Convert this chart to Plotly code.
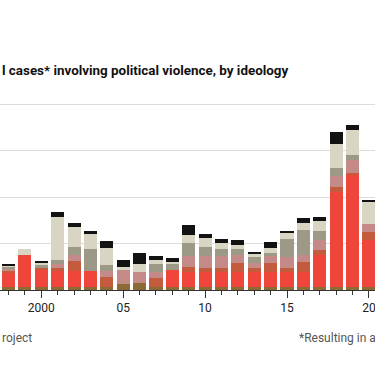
import plotly.graph_objects as go

years = list(range(1998, 2021))

# stacked segments, bottom to top (number of cases)
other_bottom = [1.2, 1.2, 1.2, 1.2, 1.2, 1.2, 1.2, 2.5, 2.8, 1.2, 1.2, 1.2, 1.2, 1.2, 1.2, 1.2, 1.2, 1.2, 1.2, 1.2, 1.2, 1.2, 1.2]
right_wing   = [6.0, 13.9, 7.4, 7.0, 7.0, 7.0, 0.0, 0.0, 0.0, 0.0, 7.3, 6.7, 6.7, 6.7, 6.7, 6.7, 6.7, 6.7, 6.7, 13.9, 41.1, 48.3, 20.3]
anti_govt    = [1.0, 0.0, 1.0, 1.4, 4.3, 0.0, 4.3, 0.0, 0.0, 3.9, 0.0, 1.9, 1.4, 1.4, 3.6, 1.4, 3.6, 1.4, 4.3, 2.2, 1.9, 1.0, 3.6]
left_wing    = [0.8, 0.0, 0.0, 1.5, 2.4, 0.0, 2.8, 6.0, 5.0, 2.8, 0.0, 4.9, 5.3, 5.3, 3.6, 2.5, 3.2, 5.0, 2.9, 4.3, 5.0, 5.4, 3.3]
islamist     = [1.0, 0.0, 1.1, 1.6, 3.7, 9.6, 2.4, 0.0, 0.0, 3.2, 3.0, 5.7, 3.7, 2.9, 2.5, 2.5, 1.1, 7.7, 10.5, 3.6, 3.2, 2.2, 0.0]
environment  = [0.4, 2.6, 0.9, 18.8, 8.4, 6.5, 7.4, 1.5, 3.3, 1.6, 0.7, 3.3, 3.9, 2.9, 1.7, 1.4, 2.1, 2.6, 3.4, 4.3, 10.3, 10.8, 9.6]
unclear      = [1.0, 0.0, 0.9, 2.0, 1.9, 1.0, 2.9, 2.9, 4.7, 2.1, 1.7, 4.3, 1.9, 1.6, 2.0, 0.7, 2.9, 0.7, 1.9, 1.7, 5.2, 2.2, 0.7]

series_names = ["Other", "Right-wing", "Anti-government", "Left-wing", "Islamist", "Environmental", "Unclear"]
series_values = [other_bottom, right_wing, anti_govt, left_wing, islamist, environment, unclear]
series_colors = ["#8A6A35", "#F0453A", "#C45A3E", "#C48A88", "#9C9A87", "#D8D6C2", "#121212"]

tick_vals = [2000, 2005, 2010, 2015, 2020]
tick_text = ["2000", "05", "10", "15", "20"]

W, H = 375, 366
TOP, BASE = 100, 290

fig = go.Figure()
for name, vals, col in zip(series_names, series_values, series_colors):
    fig.add_trace(go.Bar(x=years, y=vals, name=name, marker=dict(color=col, line=dict(width=0))))

def px(x):
    return x / W

def py(y):
    return (BASE - y) / (BASE - TOP)

fig.update_layout(
    width=W, height=H,
    margin=dict(l=0, r=0, t=TOP, b=H - BASE, pad=0),
    barmode="stack", bargap=0.2,
    showlegend=False,
    plot_bgcolor="white", paper_bgcolor="white",
    font=dict(family="Roboto", size=12, color="#222"),
)
fig.update_xaxes(
    range=[1997.48, 2020.37],
    tickvals=tick_vals, ticktext=tick_text,
    ticks="outside", ticklen=7, tickcolor="#333", tickwidth=1,
    minor=dict(dtick=1, tick0=1998, ticks="outside", ticklen=4, tickcolor="#333", showgrid=False),
    showline=True, linecolor="#333", linewidth=1,
    showgrid=False, tickfont=dict(size=12, color="#222"),
    ticklabeloverflow="allow",
)
fig.update_yaxes(
    range=[0, (BASE - TOP) / 2.325],
    tickvals=[0, 20, 40, 60, 80], showticklabels=False,
    showgrid=True, gridcolor="#DCDCDC", gridwidth=1, zeroline=False,
)

fig.add_annotation(
    text="<b>l cases* involving political violence, by ideology</b>",
    xref="paper", yref="paper", x=px(0), y=py(70), xanchor="left", yanchor="middle",
    showarrow=False, font=dict(family="Roboto", size=13.4, color="#111"),
)
fig.add_annotation(
    text="roject",
    xref="paper", yref="paper", x=px(0), y=py(338), xanchor="left", yanchor="middle",
    showarrow=False, font=dict(family="Roboto", size=12, color="#555"),
)
fig.add_annotation(
    text="*Resulting in a",
    xref="paper", yref="paper", x=px(297), y=py(338), xanchor="left", yanchor="middle",
    showarrow=False, font=dict(family="Roboto", size=12, color="#555"),
)

fig.write_html("out.html", config={"displayModeBar": False},
               post_script="document.body.style.margin='0';")
